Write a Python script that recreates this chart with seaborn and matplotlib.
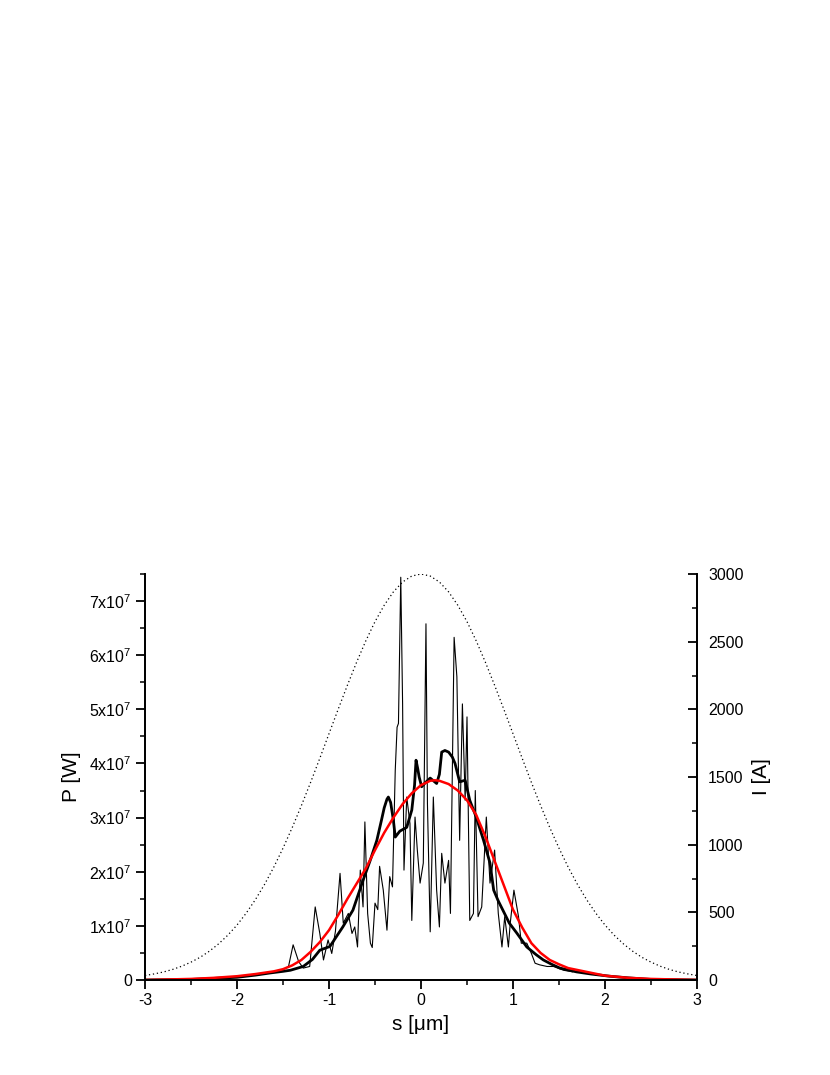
import matplotlib
matplotlib.use("Agg")
import matplotlib.pyplot as plt
import seaborn as sns
import pandas as pd
import numpy as np
from matplotlib.ticker import MultipleLocator, FixedLocator, FixedFormatter

# ---------------- data ----------------
# dotted current profile, I [A] (right axis)
cur_s = [-3.0, -2.9, -2.8, -2.7, -2.6, -2.5, -2.4, -2.3, -2.2, -2.1, -2.0, -1.9, -1.8, -1.7,
         -1.6, -1.5, -1.4, -1.3, -1.2, -1.1, -1.0, -0.9, -0.8, -0.7, -0.6, -0.5, -0.4, -0.3,
         -0.2, -0.1, 0.0, 0.1, 0.2, 0.3, 0.4, 0.5, 0.6, 0.7, 0.8, 0.9, 1.0, 1.1, 1.2, 1.3,
         1.4, 1.5, 1.6, 1.7, 1.8, 1.9, 2.0, 2.1, 2.2, 2.3, 2.4, 2.5, 2.6, 2.7, 2.8, 2.9, 3.0]
cur_I = [33, 45, 59, 78, 102, 132, 168, 213, 267, 331, 406, 494, 594, 707,
         834, 974, 1126, 1289, 1460, 1638, 1820, 2001, 2178, 2348, 2506, 2648, 2769, 2868,
         2941, 2985, 3000, 2985, 2941, 2868, 2769, 2648, 2506, 2348, 2178, 2001, 1820, 1638, 1460, 1289,
         1126, 974, 834, 707, 594, 494, 406, 331, 267, 213, 168, 132, 102, 78, 59, 45, 33]

# thin noisy power, P [1e7 W]
thin_s = [-1.55, -1.49, -1.44, -1.39, -1.33, -1.28, -1.21, -1.15, -1.10, -1.06, -1.01, -0.97,
          -0.93, -0.88, -0.845, -0.79, -0.75, -0.72, -0.69, -0.66, -0.63, -0.61, -0.58, -0.55,
          -0.53, -0.50, -0.47, -0.45, -0.41, -0.37, -0.34, -0.31, -0.28, -0.26, -0.245, -0.22,
          -0.20, -0.185, -0.155, -0.12, -0.10, -0.065, -0.04, -0.01, 0.025, 0.054, 0.07, 0.10,
          0.134, 0.17, 0.20, 0.225, 0.26, 0.30, 0.32, 0.36, 0.39, 0.42, 0.45, 0.48, 0.50, 0.53,
          0.57, 0.59, 0.62, 0.66, 0.71, 0.75, 0.80, 0.84, 0.88, 0.91, 0.95, 0.97, 1.01, 1.06,
          1.09, 1.15, 1.20, 1.24, 1.29, 1.37, 1.44, 1.55, 1.65]
thin_P = [0.18, 0.20, 0.25, 0.65, 0.34, 0.22, 0.25, 1.35, 0.86, 0.37, 0.74, 0.49,
          0.90, 1.97, 1.05, 1.23, 0.86, 0.98, 0.61, 2.03, 1.35, 2.92, 1.23, 0.68,
          0.60, 1.42, 1.30, 2.10, 1.66, 0.92, 1.91, 1.72, 3.87, 4.67, 4.74, 7.44,
          5.10, 2.03, 3.38, 2.89, 1.10, 3.01, 2.40, 1.79, 2.16, 6.58, 3.26, 0.89,
          3.38, 1.66, 0.98, 2.34, 1.79, 2.21, 1.23, 6.33, 5.60, 2.58, 5.10, 3.32, 4.86, 1.10,
          1.23, 3.50, 1.17, 1.35, 3.01, 1.79, 2.40, 1.23, 0.61, 1.17, 0.61, 1.05, 1.66, 1.17,
          0.68, 0.68, 0.49, 0.31, 0.28, 0.25, 0.25, 0.18, 0.15]

# thick averaged power, P [1e7 W]
thick_s = [-3.0, -2.75, -2.5, -2.25, -2.0, -1.8, -1.64, -1.5, -1.42, -1.28, -1.18, -1.10, -0.99,
           -0.92, -0.85, -0.74, -0.63, -0.55, -0.48, -0.43, -0.40, -0.37, -0.355, -0.33, -0.30,
           -0.28, -0.23, -0.155, -0.10, -0.07, -0.054, -0.035, -0.02, 0.007, 0.05, 0.10,
           0.17, 0.20, 0.225, 0.26, 0.30, 0.34, 0.37, 0.42, 0.48, 0.53, 0.60, 0.68, 0.75, 0.79,
           0.84, 0.89, 0.96, 1.04, 1.15, 1.25, 1.33, 1.42, 1.51, 1.69, 1.85, 2.05, 2.25, 2.5,
           2.75, 3.0]
thick_P = [0.0, 0.005, 0.01, 0.03, 0.05, 0.09, 0.13, 0.16, 0.18, 0.25, 0.38, 0.55, 0.62,
           0.80, 0.98, 1.29, 1.84, 2.22, 2.58, 2.95, 3.18, 3.34, 3.38, 3.28, 2.95,
           2.64, 2.75, 2.82, 3.14, 3.60, 4.06, 3.90, 3.75, 3.57, 3.65, 3.73,
           3.63, 3.80, 4.21, 4.24, 4.21, 4.12, 4.00, 3.66, 3.69, 3.32, 3.01, 2.58, 2.16, 1.66,
           1.46, 1.29, 1.05, 0.87, 0.61, 0.47, 0.37, 0.29, 0.22, 0.15, 0.11, 0.07, 0.04, 0.01,
           0.005, 0.0]

# red smooth power, P [1e7 W]
red_s = [-3.0, -2.5, -2.25, -2.0, -1.8, -1.6, -1.5, -1.4, -1.3, -1.2, -1.1, -1.0, -0.9, -0.8,
         -0.7, -0.6, -0.5, -0.4, -0.3, -0.2, -0.1, 0.0, 0.1, 0.15, 0.2, 0.3, 0.4, 0.5, 0.6,
         0.7, 0.8, 0.9, 1.0, 1.1, 1.2, 1.3, 1.4, 1.5, 1.6, 1.8, 2.0, 2.25, 2.5, 3.0]
red_P = [0.0, 0.02, 0.04, 0.07, 0.11, 0.16, 0.20, 0.27, 0.37, 0.52, 0.70, 0.92, 1.20, 1.50,
         1.78, 2.06, 2.40, 2.72, 3.00, 3.25, 3.45, 3.60, 3.68, 3.69, 3.68, 3.62, 3.50, 3.32, 3.05,
         2.65, 2.20, 1.75, 1.30, 0.97, 0.68, 0.50, 0.37, 0.29, 0.22, 0.15, 0.08, 0.04, 0.02, 0.0]

x_ticks = [-3, -2, -1, 0, 1, 2, 3]
p_ticks = [0, 1, 2, 3, 4, 5, 6, 7]
p_labels = ["0"] + [r"$%d\mathrm{x}10^{7}$" % v for v in p_ticks[1:]]
i_ticks = [0, 500, 1000, 1500, 2000, 2500, 3000]

# ---------------- style ----------------
sns.set_style("ticks")
plt.rcParams["font.family"] = ["Liberation Sans", "DejaVu Sans"]
plt.rcParams["mathtext.fontset"] = "custom"
plt.rcParams["mathtext.rm"] = "Liberation Sans"
plt.rcParams["mathtext.it"] = "Liberation Sans:italic"
plt.rcParams["axes.unicode_minus"] = False
for k in ["text.color", "axes.labelcolor", "xtick.color", "ytick.color", "axes.edgecolor"]:
    plt.rcParams[k] = "black"

fig = plt.figure(figsize=(8.3, 10.75), dpi=100)
ax = fig.add_axes([145 / 830, 95 / 1075, 552 / 830, 406 / 1075])
ax2 = ax.twinx()

df_cur = pd.DataFrame({"s": cur_s, "I": cur_I})
df_thin = pd.DataFrame({"s": thin_s, "P": np.array(thin_P) * 1e7})
df_thick = pd.DataFrame({"s": thick_s, "P": np.array(thick_P) * 1e7})
df_red = pd.DataFrame({"s": red_s, "P": np.array(red_P) * 1e7})

sns.lineplot(data=df_cur, x="s", y="I", ax=ax2, color="black", lw=0.9,
             linestyle=(0, (1, 2.2)), sort=False, estimator=None)
sns.lineplot(data=df_thin, x="s", y="P", ax=ax, color="black", lw=0.8,
             sort=False, estimator=None)
sns.lineplot(data=df_thick, x="s", y="P", ax=ax, color="black", lw=2.0,
             sort=False, estimator=None)
sns.lineplot(data=df_red, x="s", y="P", ax=ax, color="#ff0000", lw=1.8,
             sort=False, estimator=None)

ax.set_xlim(-3, 3)
ax.set_ylim(0, 7.5e7)
ax2.set_ylim(0, 3000)
ax2.set_xlim(-3, 3)

ax.xaxis.set_major_locator(FixedLocator(x_ticks))
ax.xaxis.set_minor_locator(MultipleLocator(0.5))
ax.set_xticklabels([str(v) for v in x_ticks])
ax.yaxis.set_major_locator(FixedLocator([v * 1e7 for v in p_ticks]))
ax.yaxis.set_major_formatter(FixedFormatter(p_labels))
ax.yaxis.set_minor_locator(MultipleLocator(0.5e7))
ax2.yaxis.set_major_locator(FixedLocator(i_ticks))
ax2.set_yticklabels([str(v) for v in i_ticks])
ax2.yaxis.set_minor_locator(MultipleLocator(250))

for a in (ax, ax2):
    a.spines["top"].set_visible(False)
    for sp in a.spines.values():
        sp.set_linewidth(1.3)
        sp.set_color("black")

ax.tick_params(axis="both", which="major", direction="out", length=6.5, width=1.3,
               labelsize=11.5, pad=3, colors="black")
ax.tick_params(axis="both", which="minor", direction="out", length=3.5, width=1.1,
               colors="black")
ax2.tick_params(axis="y", which="major", direction="in", length=6.5, width=1.3,
                labelsize=11.5, pad=8, colors="black")
ax2.tick_params(axis="y", which="minor", direction="in", length=3.5, width=1.1,
                colors="black")

ax.set_xlabel("s [μm]", fontsize=15, labelpad=5)
ax.set_ylabel("P [W]", fontsize=15, labelpad=6)
ax2.set_ylabel("I [A]", fontsize=15, labelpad=6, rotation=90)

fig.savefig("out.png", dpi=100)
